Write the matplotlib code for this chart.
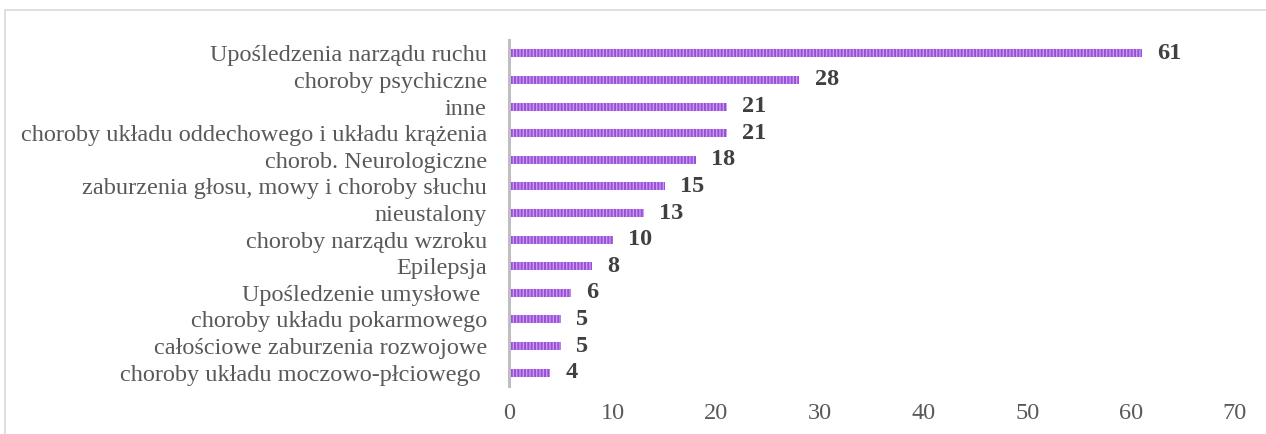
import matplotlib
matplotlib.use("Agg")
import matplotlib.pyplot as plt
from matplotlib.patches import Rectangle

categories = [
    "Upośledzenia narządu ruchu",
    "choroby psychiczne",
    "inne",
    "choroby układu oddechowego i układu krążenia",
    "chorob. Neurologiczne",
    "zaburzenia głosu, mowy i choroby słuchu",
    "nieustalony",
    "choroby narządu wzroku",
    "Epilepsja",
    "Upośledzenie umysłowe ",
    "choroby układu pokarmowego",
    "całościowe zaburzenia rozwojowe",
    "choroby układu moczowo-płciowego ",
]
values = [61, 28, 21, 21, 18, 15, 13, 10, 8, 6, 5, 5, 4]
x_ticks = [0, 10, 20, 30, 40, 50, 60, 70]

plt.rcParams['font.family'] = ['Liberation Serif', 'DejaVu Serif']
plt.rcParams['hatch.linewidth'] = 1.5

W, H = 1266, 434
fig = plt.figure(figsize=(W / 100, H / 100), dpi=100)
ax = fig.add_axes([509 / W, 1 - 386 / H, (1235 - 509) / W, (386 - 40) / H])

# outer chart border
fig.patches.append(Rectangle((4.5 / W, -0.1), 1.2, 1 - 10.5 / H + 0.1,
                             transform=fig.transFigure, fill=False,
                             edgecolor='#D9D9D9', linewidth=1.2))

ypos = list(range(len(categories)))
ax.barh(ypos, values, height=0.3, color='#C9A3EF', edgecolor='#9B4FDB',
        linewidth=0, hatch='|||||')
ax.set_yticks(ypos)
ax.set_yticklabels(categories, fontsize=17.5, color='#595959')
ax.set_ylim(len(categories) - 0.5, -0.5)
ax.set_xlim(0, 70)
ax.set_xticks(x_ticks)
ax.set_xticklabels([str(t) for t in x_ticks], fontsize=17.5, color='#595959')
ax.tick_params(axis='both', length=0)
ax.tick_params(axis='y', pad=16)
ax.tick_params(axis='x', pad=12)

for s in ['top', 'right', 'bottom']:
    ax.spines[s].set_visible(False)
ax.spines['left'].set_color('#BFBFBF')
ax.spines['left'].set_linewidth(2.2)

for y, v in zip(ypos, values):
    ax.annotate(str(v), xy=(v, y), xytext=(11, 0), textcoords='offset points',
                va='center', ha='left', fontsize=17.5, fontweight='bold',
                color='#404040')

fig.savefig('out.png', dpi=100)
